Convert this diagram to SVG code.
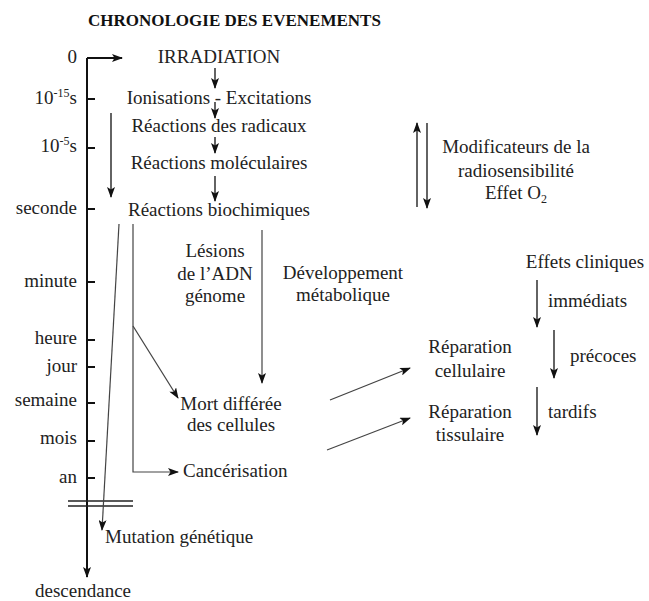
<svg xmlns="http://www.w3.org/2000/svg" width="649" height="601" viewBox="0 0 649 601">
<style>
text{font-family:'Liberation Serif',serif;font-size:19px;fill:#222}
.t{font-weight:bold;font-size:17px;fill:#111}
.l{text-anchor:end}
.c{text-anchor:middle}
.ln{stroke:#222;stroke-width:1.4;fill:none}
.ax{stroke:#111;stroke-width:2;fill:none}
.g{stroke:#444;stroke-width:1.2;fill:none}
</style>
<defs>
<marker id="ah" viewBox="0 0 11 8" refX="10" refY="4" markerWidth="11" markerHeight="8" markerUnits="userSpaceOnUse" orient="auto">
<path d="M0,0 L11,4 L0,8 L2.5,4 z" fill="#111"/>
</marker>
</defs>
<rect width="649" height="601" fill="#fff"/>
<text class="t" x="88" y="26">CHRONOLOGIE DES EVENEMENTS</text>

<g id="timescale">
<text class="l" x="77" y="63">0</text>
<text class="l" x="77" y="104">10<tspan dy="-7" font-size="12">-15</tspan><tspan dy="7">s</tspan></text>
<text class="l" x="77" y="152">10<tspan dy="-7" font-size="12">-5</tspan><tspan dy="7">s</tspan></text>
<text class="l" x="77" y="214">seconde</text>
<text class="l" x="77" y="287">minute</text>
<text class="l" x="77" y="344">heure</text>
<text class="l" x="77" y="372">jour</text>
<text class="l" x="77" y="406">semaine</text>
<text class="l" x="77" y="444">mois</text>
<text class="l" x="77" y="483">an</text>
<text x="35" y="597">descendance</text>
</g>

<g id="connectors">
<path class="ax" d="M87,58 H122" marker-end="url(#ah)"/>
<path class="ax" d="M87,58 V577" marker-end="url(#ah)"/>
<path class="ax" d="M87,99 h8 M87,148 h8 M87,209 h8 M87,282 h8 M87,340 h8 M87,367 h8 M87,403 h8 M87,441 h8 M87,478 h8"/>
<path class="ln" d="M68,501 H133"/>
<path class="ln" d="M68,506 H133" stroke="#555"/>
<path class="ln" d="M111,113 V197" marker-end="url(#ah)"/>
<path class="ln" d="M215,68 V88" marker-end="url(#ah)"/>
<path class="ln" d="M215,102 V118" marker-end="url(#ah)"/>
<path class="ln" d="M215,137 V153" marker-end="url(#ah)"/>
<path class="ln" d="M215,176 V201" marker-end="url(#ah)"/>
<path class="g" d="M119,224 L102,530" marker-end="url(#ah)"/>
<path class="g" d="M133,224 V472 H178" marker-end="url(#ah)"/>
<path class="g" d="M133,326 L178,398" marker-end="url(#ah)"/>
<path class="g" d="M262,230 V383" marker-end="url(#ah)"/>
<path class="ln" d="M417,207 V123" marker-end="url(#ah)"/>
<path class="ln" d="M427,123 V208" marker-end="url(#ah)"/>
<path class="g" d="M330,400 L410,368" marker-end="url(#ah)"/>
<path class="g" d="M327,450 L410,418" marker-end="url(#ah)"/>
<path class="ln" d="M537,280 V327" marker-end="url(#ah)"/>
<path class="ln" d="M554,330 V378" marker-end="url(#ah)"/>
<path class="ln" d="M537,387 V435" marker-end="url(#ah)"/>
</g>

<g id="irradiation"><text class="c" x="219" y="63">IRRADIATION</text></g>
<g id="ionisations"><text class="c" x="219" y="104">Ionisations - Excitations</text></g>
<g id="radicaux"><text class="c" x="219" y="132">Réactions des radicaux</text></g>
<g id="moleculaires"><text class="c" x="219" y="169">Réactions moléculaires</text></g>
<g id="biochimiques"><text class="c" x="219" y="216">Réactions biochimiques</text></g>
<g id="lesions">
<text class="c" x="215" y="257">Lésions</text>
<text class="c" x="215" y="280">de l’ADN</text>
<text class="c" x="215" y="302">génome</text>
</g>
<g id="developpement">
<text class="c" x="343" y="279">Développement</text>
<text class="c" x="343" y="301">métabolique</text>
</g>
<g id="mort">
<text class="c" x="231" y="410">Mort différée</text>
<text class="c" x="231" y="431">des cellules</text>
</g>
<g id="cancerisation"><text x="183" y="477">Cancérisation</text></g>
<g id="mutation"><text x="105" y="543">Mutation génétique</text></g>
<g id="modificateurs">
<text class="c" x="516" y="153">Modificateurs de la</text>
<text class="c" x="516" y="177">radiosensibilité</text>
<text class="c" x="516" y="199">Effet O<tspan dy="4" font-size="12">2</tspan></text>
</g>
<g id="effets">
<text class="c" x="585" y="268">Effets cliniques</text>
<text x="548" y="307">immédiats</text>
<text x="570" y="362">précoces</text>
<text x="548" y="418">tardifs</text>
</g>
<g id="rep-cell">
<text class="c" x="470" y="353">Réparation</text>
<text class="c" x="470" y="377">cellulaire</text>
</g>
<g id="rep-tiss">
<text class="c" x="470" y="418">Réparation</text>
<text class="c" x="470" y="441">tissulaire</text>
</g>
</svg>
